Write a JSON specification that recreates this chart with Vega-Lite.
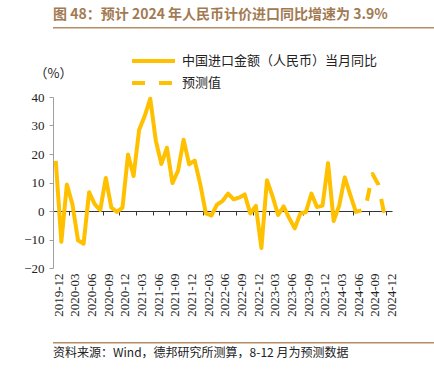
{
  "$schema": "https://vega.github.io/schema/vega-lite/v6.json",
  "padding": {"left": 13, "top": 8, "right": 9, "bottom": 0},
  "background": "white",
  "columns": 1,
  "align": "none",
  "spacing": 25,
  "resolve": {
    "scale": {"color": "independent", "strokeDash": "independent"},
    "legend": {"color": "independent", "strokeDash": "independent"}
  },
  "config": {
    "view": {"stroke": null},
    "font": "Noto Sans CJK SC"
  },
  "concat": [
    {
      "width": 412,
      "height": 2,
      "title": {
        "text": "图 48：预计 2024 年人民币计价进口同比增速为 3.9%",
        "anchor": "start",
        "font": "Noto Sans CJK SC",
        "fontSize": 14,
        "fontWeight": "bold",
        "color": "#A27A52",
        "offset": 5
      },
      "data": {"values": [{"a": 0, "b": 1, "v": 0.25, "v2": 1}]},
      "mark": {"type": "rect", "fill": "#B48C64", "stroke": null},
      "encoding": {
        "x": {"field": "a", "type": "quantitative", "scale": {"domain": [0, 1]}, "axis": null},
        "x2": {"field": "b"},
        "y": {"field": "v", "type": "quantitative", "scale": {"domain": [0, 1]}, "axis": null},
        "y2": {"field": "v2"}
      }
    },
    {
      "width": 339,
      "height": 171,
      "data": {
        "values": [
          {"month": "2019-12", "value": 17.6, "series": "中国进口金额（人民币）当月同比"},
          {"month": "2020-01", "value": -10.8, "series": "中国进口金额（人民币）当月同比"},
          {"month": "2020-02", "value": 9.3, "series": "中国进口金额（人民币）当月同比"},
          {"month": "2020-03", "value": 2.3, "series": "中国进口金额（人民币）当月同比"},
          {"month": "2020-04", "value": -10.3, "series": "中国进口金额（人民币）当月同比"},
          {"month": "2020-05", "value": -11.5, "series": "中国进口金额（人民币）当月同比"},
          {"month": "2020-06", "value": 6.6, "series": "中国进口金额（人民币）当月同比"},
          {"month": "2020-07", "value": 2.4, "series": "中国进口金额（人民币）当月同比"},
          {"month": "2020-08", "value": 0.3, "series": "中国进口金额（人民币）当月同比"},
          {"month": "2020-09", "value": 11.6, "series": "中国进口金额（人民币）当月同比"},
          {"month": "2020-10", "value": 1.2, "series": "中国进口金额（人民币）当月同比"},
          {"month": "2020-11", "value": -0.3, "series": "中国进口金额（人民币）当月同比"},
          {"month": "2020-12", "value": 1.2, "series": "中国进口金额（人民币）当月同比"},
          {"month": "2021-01", "value": 19.8, "series": "中国进口金额（人民币）当月同比"},
          {"month": "2021-02", "value": 12.3, "series": "中国进口金额（人民币）当月同比"},
          {"month": "2021-03", "value": 28.5, "series": "中国进口金额（人民币）当月同比"},
          {"month": "2021-04", "value": 33.3, "series": "中国进口金额（人民币）当月同比"},
          {"month": "2021-05", "value": 39.4, "series": "中国进口金额（人民币）当月同比"},
          {"month": "2021-06", "value": 24.7, "series": "中国进口金额（人民币）当月同比"},
          {"month": "2021-07", "value": 16.5, "series": "中国进口金额（人民币）当月同比"},
          {"month": "2021-08", "value": 22.2, "series": "中国进口金额（人民币）当月同比"},
          {"month": "2021-09", "value": 9.8, "series": "中国进口金额（人民币）当月同比"},
          {"month": "2021-10", "value": 14.1, "series": "中国进口金额（人民币）当月同比"},
          {"month": "2021-11", "value": 25.0, "series": "中国进口金额（人民币）当月同比"},
          {"month": "2021-12", "value": 16.4, "series": "中国进口金额（人民币）当月同比"},
          {"month": "2022-01", "value": 17.7, "series": "中国进口金额（人民币）当月同比"},
          {"month": "2022-02", "value": 9.4, "series": "中国进口金额（人民币）当月同比"},
          {"month": "2022-03", "value": -0.8, "series": "中国进口金额（人民币）当月同比"},
          {"month": "2022-04", "value": -1.6, "series": "中国进口金额（人民币）当月同比"},
          {"month": "2022-05", "value": 2.2, "series": "中国进口金额（人民币）当月同比"},
          {"month": "2022-06", "value": 3.5, "series": "中国进口金额（人民币）当月同比"},
          {"month": "2022-07", "value": 6.1, "series": "中国进口金额（人民币）当月同比"},
          {"month": "2022-08", "value": 4.1, "series": "中国进口金额（人民币）当月同比"},
          {"month": "2022-09", "value": 4.7, "series": "中国进口金额（人民币）当月同比"},
          {"month": "2022-10", "value": 5.8, "series": "中国进口金额（人民币）当月同比"},
          {"month": "2022-11", "value": -0.9, "series": "中国进口金额（人民币）当月同比"},
          {"month": "2022-12", "value": 1.8, "series": "中国进口金额（人民币）当月同比"},
          {"month": "2023-01", "value": -13.0, "series": "中国进口金额（人民币）当月同比"},
          {"month": "2023-02", "value": 10.8, "series": "中国进口金额（人民币）当月同比"},
          {"month": "2023-03", "value": 5.2, "series": "中国进口金额（人民币）当月同比"},
          {"month": "2023-04", "value": -1.4, "series": "中国进口金额（人民币）当月同比"},
          {"month": "2023-05", "value": 1.6, "series": "中国进口金额（人民币）当月同比"},
          {"month": "2023-06", "value": -2.5, "series": "中国进口金额（人民币）当月同比"},
          {"month": "2023-07", "value": -6.1, "series": "中国进口金额（人民币）当月同比"},
          {"month": "2023-08", "value": -0.9, "series": "中国进口金额（人民币）当月同比"},
          {"month": "2023-09", "value": -0.4, "series": "中国进口金额（人民币）当月同比"},
          {"month": "2023-10", "value": 6.1, "series": "中国进口金额（人民币）当月同比"},
          {"month": "2023-11", "value": 1.4, "series": "中国进口金额（人民币）当月同比"},
          {"month": "2023-12", "value": 1.9, "series": "中国进口金额（人民币）当月同比"},
          {"month": "2024-01", "value": 16.8, "series": "中国进口金额（人民币）当月同比"},
          {"month": "2024-02", "value": -3.5, "series": "中国进口金额（人民币）当月同比"},
          {"month": "2024-03", "value": 1.9, "series": "中国进口金额（人民币）当月同比"},
          {"month": "2024-04", "value": 11.8, "series": "中国进口金额（人民币）当月同比"},
          {"month": "2024-05", "value": 5.6, "series": "中国进口金额（人民币）当月同比"},
          {"month": "2024-06", "value": -0.3, "series": "中国进口金额（人民币）当月同比"},
          {"month": "2024-07", "value": 0.2, "series": "中国进口金额（人民币）当月同比"},
          {"month": "2024-08", "value": 3.6, "series": "预测值"},
          {"month": "2024-09", "value": 13.0, "series": "预测值"},
          {"month": "2024-10", "value": 9.5, "series": "预测值"},
          {"month": "2024-11", "value": 0.0, "series": "预测值"},
          {"month": "2024-12", "value": 3.9, "series": "预测值"}
        ]
      },
      "mark": {"type": "line", "strokeWidth": 4, "strokeJoin": "round", "strokeCap": "butt"},
      "encoding": {
        "x": {
          "field": "month",
          "type": "ordinal",
          "scale": {"type": "band", "paddingInner": 0, "paddingOuter": 0},
          "axis": {
            "values": ["2019-12", "2020-03", "2020-06", "2020-09", "2020-12", "2021-03", "2021-06", "2021-09", "2021-12", "2022-03", "2022-06", "2022-09", "2022-12", "2023-03", "2023-06", "2023-09", "2023-12", "2024-03", "2024-06", "2024-09", "2024-12"],
            "title": null,
            "bandPosition": 0,
            "labelOffset": 2.8,
            "offset": -57,
            "labelPadding": 58,
            "labelAngle": 270,
            "labelFont": "Liberation Serif",
            "labelFontSize": 13,
            "labelColor": "#222222",
            "domainColor": "#333333",
            "tickColor": "#333333",
            "tickSize": 4,
            "grid": false
          }
        },
        "y": {
          "field": "value",
          "type": "quantitative",
          "scale": {"domain": [-20, 40], "nice": false},
          "axis": {
            "values": [-20, -10, 0, 10, 20, 30, 40],
            "grid": false,
            "domainColor": "#A0A0A0",
            "tickColor": "#A0A0A0",
            "tickSize": 4,
            "labelFont": "Liberation Serif",
            "labelFontSize": 13,
            "labelColor": "#222222",
            "labelPadding": 5,
            "title": "（%）",
            "titleAngle": 0,
            "titleFont": "Noto Sans CJK SC",
            "titleFontSize": 13,
            "titleFontWeight": "normal",
            "titleColor": "#222222",
            "titleAlign": "left",
            "titleBaseline": "middle",
            "titleX": -19,
            "titleY": -24,
            "minExtent": 40
          }
        },
        "color": {
          "field": "series",
          "type": "nominal",
          "scale": {"domain": ["中国进口金额（人民币）当月同比", "预测值"], "range": ["#FFC000", "#FFC000"]},
          "legend": {
            "title": null,
            "orient": "none",
            "legendX": 93.5,
            "legendY": -43,
            "padding": 0,
            "symbolType": "M-4.3,0H4.3",
            "symbolSize": 100,
            "symbolStrokeWidth": 4,
            "labelFont": "Noto Sans CJK SC",
            "labelFontSize": 13,
            "labelColor": "#222222",
            "labelOffset": 21.5,
            "labelLimit": 0,
            "rowPadding": 6
          }
        },
        "strokeDash": {
          "field": "series",
          "type": "nominal",
          "scale": {"domain": ["中国进口金额（人民币）当月同比", "预测值"], "range": [[1, 0], [13, 14]]}
        }
      }
    },
    {
      "width": 412,
      "height": 2,
      "title": {
        "text": "资料来源：Wind，德邦研究所测算，8-12 月为预测数据",
        "orient": "bottom",
        "anchor": "start",
        "font": "Noto Sans CJK SC",
        "fontSize": 12,
        "fontWeight": "normal",
        "color": "#222222",
        "offset": 4
      },
      "data": {"values": [{"a": 0, "b": 1, "v": 0.25, "v2": 1}]},
      "mark": {"type": "rect", "fill": "#B48C64", "stroke": null},
      "encoding": {
        "x": {"field": "a", "type": "quantitative", "scale": {"domain": [0, 1]}, "axis": null},
        "x2": {"field": "b"},
        "y": {"field": "v", "type": "quantitative", "scale": {"domain": [0, 1]}, "axis": null},
        "y2": {"field": "v2"}
      }
    }
  ]
}
